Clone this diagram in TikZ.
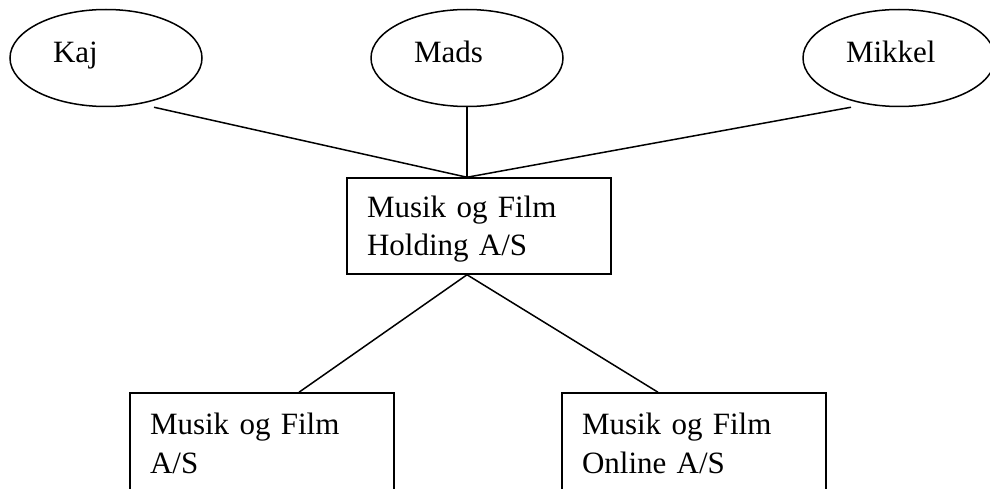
\documentclass[tikz,border=0pt]{standalone}
\usepackage{fontspec}
\setmainfont{Liberation Serif}
\usetikzlibrary{shapes.geometric}

\begin{document}
\begin{tikzpicture}[x = 1pt, y = -1pt, line width = 1.5pt,
  font = \fontsize{31pt}{39pt}\selectfont,
  owner/.style = {draw, ellipse, minimum width = 192pt, minimum height = 97pt, inner sep = 0pt, text width = 106pt, align = left, text height = 22pt, text depth = 12pt},
  company/.style = {draw, rectangle, minimum width = 264pt, minimum height = 96pt, inner sep = 0pt, text width = 224pt, align = left, text height = 26pt, text depth = 44pt}]
\clip (0, 0) rectangle (990, 489);
\node[owner] (kaj) at (106, 58) {Kaj};
\node[owner] (mads) at (467, 58) {Mads};
\node[owner] (mikkel) at (899, 58) {Mikkel};
\node[company] (holding) at (479, 226) {Musik og Film\\Holding A/S};
\node[company, minimum height = 100pt] (musik) at (262, 443) {Musik og Film\\A/S};
\node[company, minimum height = 100pt] (online) at (694, 443) {Musik og Film\\Online A/S};
\coordinate (kajfoot) at ([xshift = 48pt]kaj.south);
\coordinate (mikkelfoot) at ([xshift = -48pt]mikkel.south);
\draw (kajfoot) -- (holding.north -| mads);
\draw (mads) -- (holding.north -| mads);
\draw (mikkelfoot) -- (holding.north -| mads);
\draw (holding.south -| mads) -- ([xshift = 37pt]musik.north);
\draw (holding.south -| mads) -- ([xshift = -36pt]online.north);
\end{tikzpicture}
\end{document}
